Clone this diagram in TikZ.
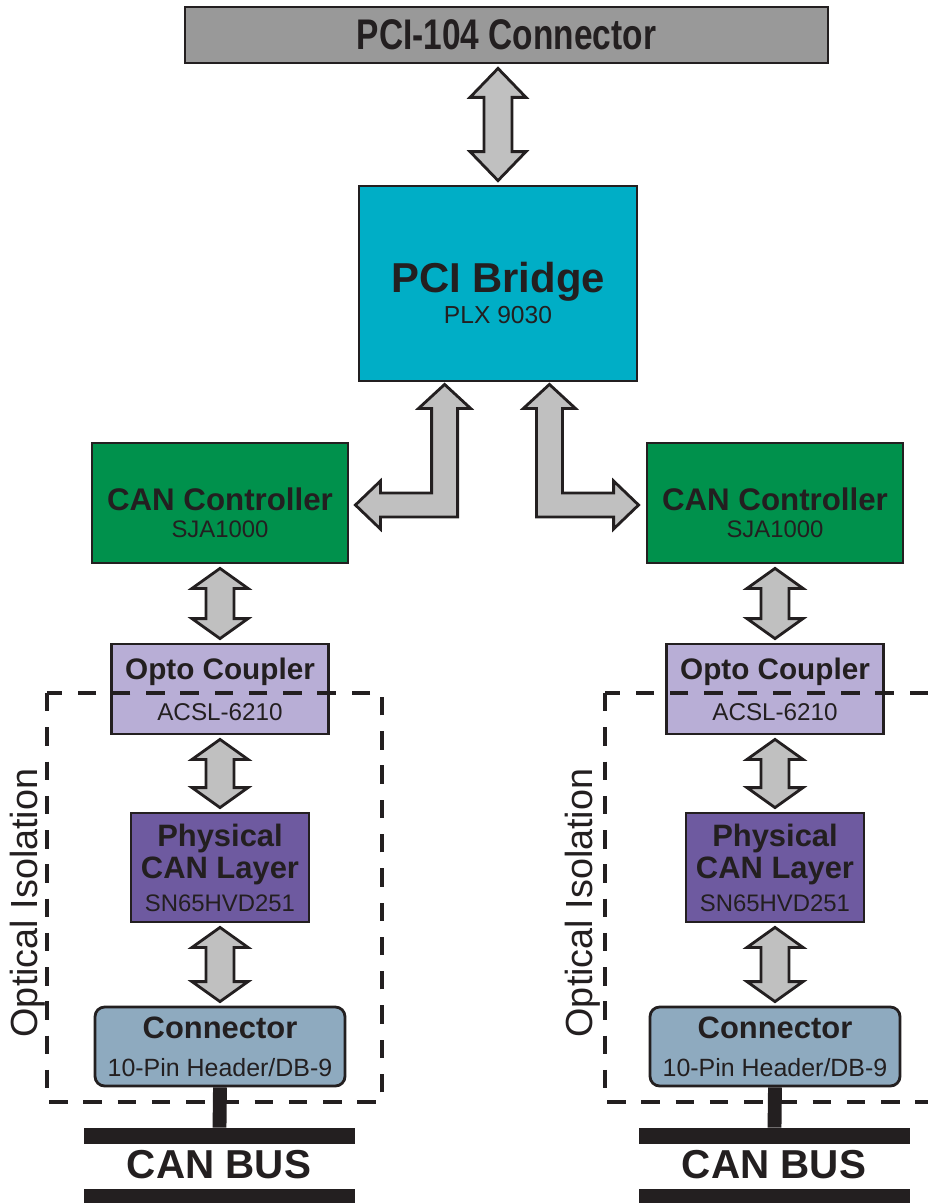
\documentclass[tikz,border=0pt]{standalone}
\usepackage{fontspec}
\setmainfont{Liberation Sans}
\usetikzlibrary{calc}

\definecolor{pcigray}{HTML}{999999}
\definecolor{bridgecyan}{HTML}{00AEC6}
\definecolor{ctrlgreen}{HTML}{00914C}
\definecolor{optolilac}{HTML}{B8AED6}
\definecolor{phypurple}{HTML}{6E5AA0}
\definecolor{connblue}{HTML}{8EAABF}
\definecolor{arrowgray}{HTML}{C0C0C0}
\definecolor{ink}{HTML}{231F20}

\newcommand{\pxu}{0.02cm}
\newcommand{\fs}[2]{\fontsize{#1}{#2}\selectfont}

\tikzstyle{block} = [draw=ink, line width=1.6pt, rectangle, inner sep=0pt,
  align=center, text=ink]
\tikzstyle{pcislot} = [block, fill=pcigray, minimum width=643*\pxu,
  minimum height=56*\pxu, font=\bfseries\fs{24.4}{28}]
\tikzstyle{bridge} = [block, fill=bridgecyan, minimum width=278*\pxu,
  minimum height=195*\pxu, font=\fs{14}{18}]
\tikzstyle{canctrl} = [block, fill=ctrlgreen, minimum width=256*\pxu,
  minimum height=120*\pxu, font=\fs{13.6}{15.3}]
\tikzstyle{opto} = [block, fill=optolilac, minimum width=217*\pxu,
  minimum height=90*\pxu, font=\fs{13.8}{23.2}]
\tikzstyle{phys} = [block, fill=phypurple, minimum width=178*\pxu,
  minimum height=109*\pxu, font=\fs{13.6}{18.5}]
\tikzstyle{canconn} = [block, fill=connblue, rounded corners=5.5pt,
  minimum width=250*\pxu, minimum height=79*\pxu, font=\fs{14.2}{21.5}]
\tikzstyle{busbar} = [fill=ink, rectangle, inner sep=0pt,
  minimum width=271*\pxu, minimum height=16*\pxu]
\tikzstyle{bustext} = [text=ink, inner sep=0pt, font=\bfseries\fs{23}{26}]
\tikzstyle{isotext} = [text=ink, inner sep=0pt, rotate=90, font=\fs{21.5}{24}]
\tikzstyle{isolation} = [draw=ink, line width=1.9pt, dash pattern=on 10.5pt off 9pt]
\tikzstyle{fat} = [draw=ink, fill=arrowgray, line width=1.6pt, line join=miter]
\tikzstyle{stem} = [draw=ink, line width=7.9pt]

% #1 head length, #2 upper end, #3 lower end
\newcommand{\vfat}[3][20]{%
  \draw[fat] ($(#2)+(0,4)$) -- ++(28,#1) -- ++(-14,0)
    -- ($(#3)+(14,-4-#1)$) -- ++(14,0) -- ($(#3)+(0,-4)$)
    -- ++(-28,-#1) -- ++(14,0) -- ($(#2)+(-14,4+#1)$) -- ++(-14,0) -- cycle;}

\begin{document}
\begin{tikzpicture}[x=0.02cm, y=-0.02cm]
        \useasboundingbox (0,0) rectangle (928,1203);
        \clip (0,0) rectangle (928,1203);

        \node [pcislot] (pci104) at (506.5,35) {\scalebox{0.78}[1]{PCI-104 Connector}};
        \node [bridge]  (bridge) at (498,283.5)
          {\rule{0pt}{28pt}{\bfseries\fs{23.8}{28}PCI Bridge}\\PLX 9030};

        \node [canctrl] (ctrlL) at (220,503)
          {\rule{0pt}{24pt}{\bfseries\fs{17.8}{20}CAN Controller}\\SJA1000};
        \node [canctrl] (ctrlR) at (775,503)
          {\rule{0pt}{24pt}{\bfseries\fs{17.8}{20}CAN Controller}\\SJA1000};

        \node [opto]    (optoL) at (220,689)
          {{\bfseries\fs{16.9}{20}Opto Coupler}\\ACSL-6210};
        \node [opto]    (optoR) at (775,689)
          {{\bfseries\fs{16.9}{20}Opto Coupler}\\ACSL-6210};

        \node [phys]    (physL) at (220,867.5)
          {{\bfseries\fs{17.6}{20}Physical}\\{\bfseries\fs{17.6}{20}CAN Layer}\\SN65HVD251};
        \node [phys]    (physR) at (775,867.5)
          {{\bfseries\fs{17.6}{20}Physical}\\{\bfseries\fs{17.6}{20}CAN Layer}\\SN65HVD251};

        \node [canconn] (connL) at (220,1046.5)
          {{\bfseries\fs{17.6}{20}Connector}\\10-Pin Header/DB-9};
        \node [canconn] (connR) at (775,1046.5)
          {{\bfseries\fs{17.6}{20}Connector}\\10-Pin Header/DB-9};

        \node [busbar]  (busL)  at (219.5,1136) {};
        \node [busbar]  (busR)  at (774.5,1136) {};
        \node [bustext] (busLtext) at (219,1165) {CAN BUS};
        \node [bustext] (busRtext) at (774,1165) {CAN BUS};
        \node [busbar]  (busLlow) at (219.5,1197) {};
        \node [busbar]  (busRlow) at (774.5,1197) {};

        \node [isotext] (isoL) at (28,903) {Optical Isolation};
        \node [isotext] (isoR) at (583,903) {Optical Isolation};

        \draw[isolation] (47,693) rectangle (382,1102);
        \draw[isolation] (605,693) rectangle (940,1102);

        \draw[stem] (connL.south) -- (busL.north);
        \draw[stem] (connR.south) -- (busR.north);

        \vfat[29]{pci104.south -| bridge.north}{bridge.north}
        \vfat{ctrlL.south}{optoL.north}
        \vfat{ctrlR.south}{optoR.north}
        \vfat{optoL.south}{physL.north}
        \vfat{optoR.south}{physR.north}
        \vfat{physL.south}{connL.north}
        \vfat{physR.south}{connR.north}

        \coordinate (tipLup)   at ($(bridge.south west)+(87,2)$);
        \coordinate (tipLside) at ($(ctrlL.east)+(6,2)$);
        \draw[fat] (tipLup) -- ++(26,24) -- ++(-13,0)
          -- ($(tipLup |- tipLside)+(13,12)$) -- ($(tipLside)+(25,12)$) -- ++(0,12)
          -- (tipLside) -- ++(25,-24) -- ++(0,12)
          -- ($(tipLup |- tipLside)+(-13,-12)$) -- ($(tipLup)+(-13,24)$) -- ++(-13,0) -- cycle;

        \coordinate (tipRup)   at ($(bridge.south east)+(-89,2)$);
        \coordinate (tipRside) at ($(ctrlR.west)+(-7,2)$);
        \draw[fat] (tipRup) -- ++(-26,24) -- ++(13,0)
          -- ($(tipRup |- tipRside)+(-13,12)$) -- ($(tipRside)+(-25,12)$) -- ++(0,12)
          -- (tipRside) -- ++(-25,-24) -- ++(0,12)
          -- ($(tipRup |- tipRside)+(13,-12)$) -- ($(tipRup)+(13,24)$) -- ++(13,0) -- cycle;
      \end{tikzpicture}
\end{document}
